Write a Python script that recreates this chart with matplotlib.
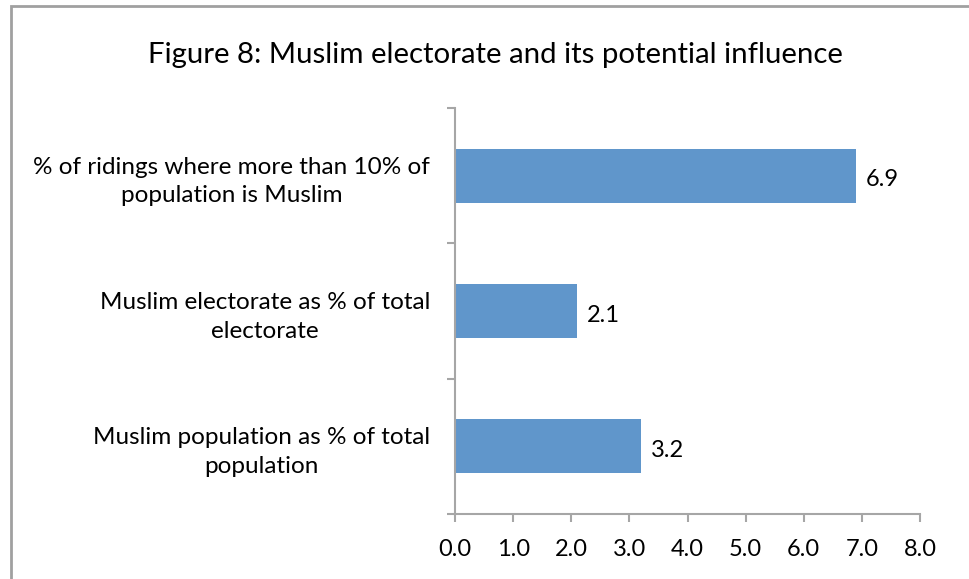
import matplotlib
matplotlib.use("Agg")
import matplotlib.pyplot as plt
from matplotlib.patches import Rectangle

categories = ["Muslim population as % of total\npopulation",
              "Muslim electorate as % of total\nelectorate",
              "% of ridings where more than 10% of\npopulation is Muslim"]
values = [3.2, 2.1, 6.9]
xticks = [0, 1, 2, 3, 4, 5, 6, 7, 8]
title = "Figure 8: Muslim electorate and its potential influence"

plt.rcParams['font.family'] = ['Lato', 'DejaVu Sans']

W, H = 969, 579
fig = plt.figure(figsize=(W/100, H/100), dpi=100)
ax = fig.add_axes([455/W, (H-514)/H, (920-455)/W, (514-108)/H])

axcol = '#A6A6A6'
pos = list(range(len(categories)))
ax.barh(pos, values, height=0.4, color='#6096CB', zorder=2)
for p, v in zip(pos, values):
    ax.annotate(f"{v:.1f}", (v, p), xytext=(7, -3), textcoords='offset points',
                ha='left', va='center', fontsize=17, color='black')

ax.set_xlim(0, 8)
ax.set_ylim(-0.5, 2.5)
ax.set_xticks(xticks)
ax.set_xticklabels([f"{t:.1f}" for t in xticks], fontsize=17)
ax.set_yticks([-0.5, 0.5, 1.5, 2.5])
ax.set_yticklabels([])
ax.set_yticks(pos, minor=True)
ax.set_yticklabels(categories, minor=True, fontsize=17.5)
for lbl in ax.get_yticklabels(minor=True):
    lbl.set_multialignment('center')
    lbl.set_linespacing(1.45)
ax.tick_params(axis='y', which='minor', length=0, pad=18)
ax.tick_params(axis='y', which='major', length=6, color=axcol, width=1.5)
ax.tick_params(axis='x', length=6, color=axcol, width=1.5, pad=12)
for s in ['top', 'right']:
    ax.spines[s].set_visible(False)
for s in ['left', 'bottom']:
    ax.spines[s].set_color(axcol)
    ax.spines[s].set_linewidth(1.5)

fig.text(495/W, 1 - 55/H, title, ha='center', va='center', fontsize=21.2)

fig.patches.append(Rectangle((11/W, -0.1), 1.2, 1 - 6/H + 0.1, transform=fig.transFigure,
                             fill=False, edgecolor='#A0A0A0', linewidth=2))

fig.savefig("out.png", dpi=100)
